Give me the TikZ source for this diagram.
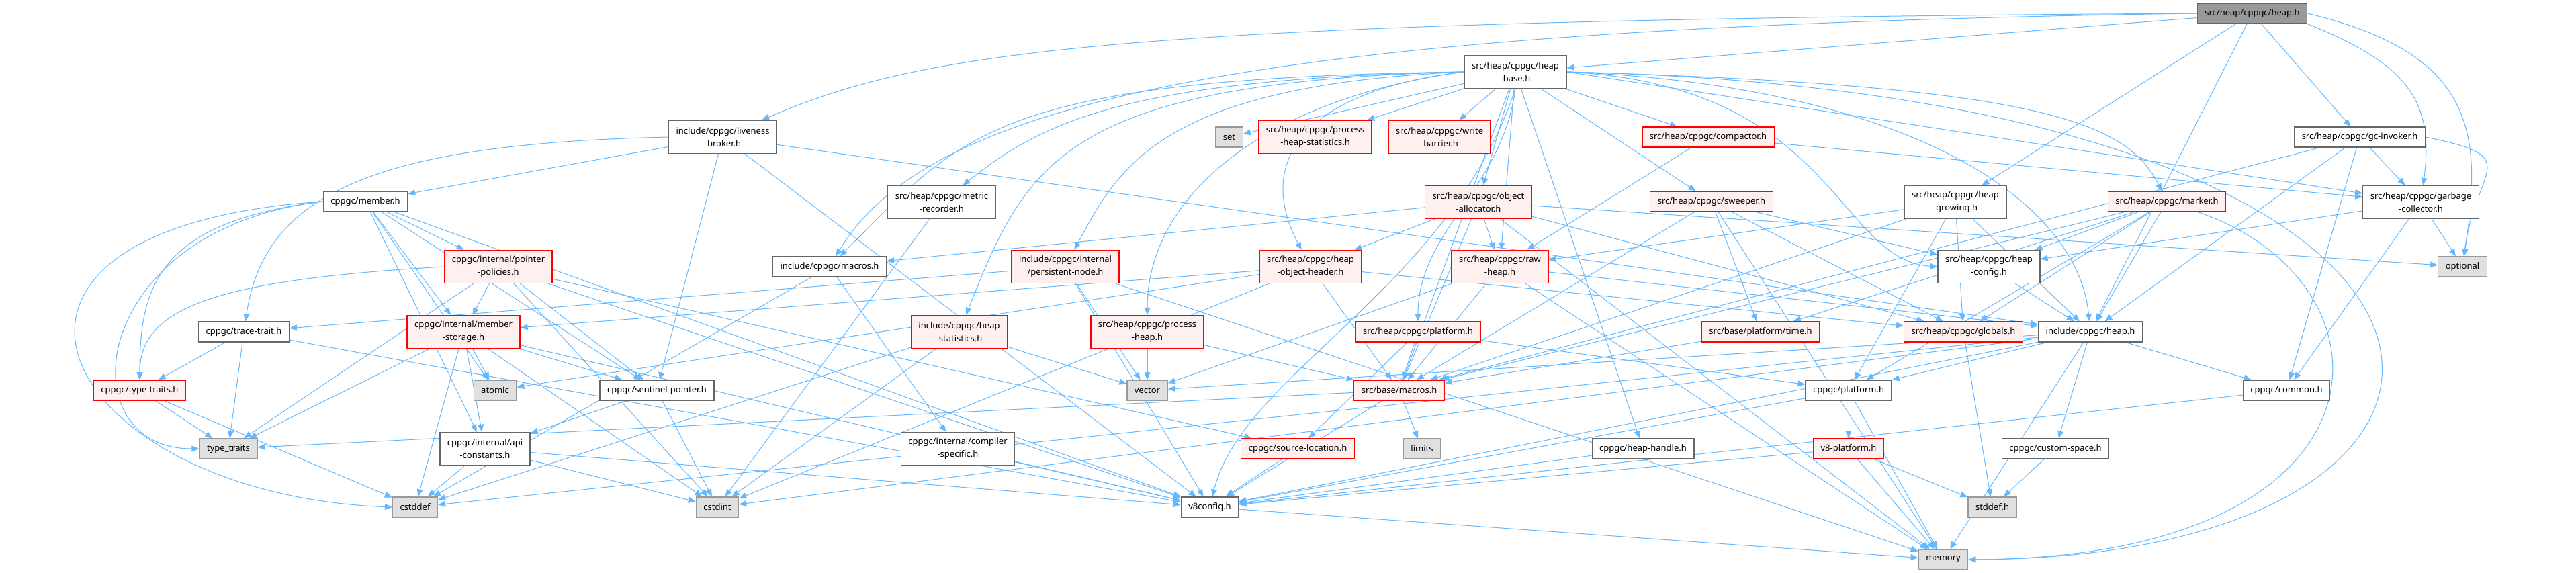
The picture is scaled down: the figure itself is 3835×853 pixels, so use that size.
\documentclass[tikz,border=0pt]{standalone}
\usepackage{fontspec}
\setmainfont{Noto Sans}
\usetikzlibrary{arrows.meta}
\pgfdeclarelayer{edges}
\pgfsetlayers{edges,main}

\definecolor{edgeblue}{HTML}{63B8FF}
\definecolor{boxgray}{HTML}{666666}
\definecolor{sysgray}{HTML}{999999}
\definecolor{sysfill}{HTML}{E0E0E0}
\definecolor{redfill}{HTML}{FFF0F0}
\definecolor{rootfill}{HTML}{999999}

\tikzset{
  file/.style={draw=boxgray, fill=white, line width=1.3pt, inner xsep=11pt,
    inner ysep=0pt, minimum height=30pt, align=center,
    font=\fontsize{13}{19}\selectfont},
  tall/.style={minimum height=49pt},
  redfile/.style={file, draw=red, fill=redfill},
  sysfile/.style={file, draw=sysgray, fill=sysfill},
  rootfile/.style={file, fill=rootfill},
  dep/.style={draw=edgeblue, line width=1pt, -{Triangle[length=11pt,width=9pt]}}
}

\begin{document}
\begin{tikzpicture}[x=1pt, y=-1pt]
  \useasboundingbox (0,0) rectangle (3835,853);

  % Root and first levels
  \node[rootfile] (root) at (3353,20) {src/heap/cppgc/heap.h};
  \node[file, tall] (hbase) at (2256,107) {src/heap/cppgc/heap\\-base.h};

  \node[file, tall] (live) at (1076,204) {include/cppgc/liveness\\-broker.h};
  \node[sysfile] (set) at (1830,204) {set};
  \node[redfile, tall] (phstats) at (1958,204) {src/heap/cppgc/process\\-heap-statistics.h};
  \node[redfile, tall] (wbar) at (2143,204) {src/heap/cppgc/write\\-barrier.h};
  \node[redfile] (compactor) at (2543,204) {src/heap/cppgc/compactor.h};
  \node[file] (gcinv) at (3513,204) {src/heap/cppgc/gc-invoker.h};

  \node[file] (member) at (544,300) {cppgc/member.h};
  \node[file, tall] (metric) at (1402,301) {src/heap/cppgc/metric\\-recorder.h};
  \node[redfile, tall] (oalloc) at (2201,301) {src/heap/cppgc/object\\-allocator.h};
  \node[redfile] (sweeper) at (2548,300) {src/heap/cppgc/sweeper.h};
  \node[file, tall] (hgrow) at (2911,301) {src/heap/cppgc/heap\\-growing.h};
  \node[redfile] (marker) at (3226,300) {src/heap/cppgc/marker.h};
  \node[file, tall] (gcoll) at (3604,301) {src/heap/cppgc/garbage\\-collector.h};

  \node[redfile, tall] (ppol) at (742,397) {cppgc/internal/pointer\\-policies.h};
  \node[file] (cmacros) at (1235,397) {include/cppgc/macros.h};
  \node[redfile, tall] (pnode) at (1586,397) {include/cppgc/internal\\/persistent-node.h};
  \node[redfile, tall] (hoheader) at (1951,397) {src/heap/cppgc/heap\\-object-header.h};
  \node[redfile, tall] (rawheap) at (2233,397) {src/heap/cppgc/raw\\-heap.h};
  \node[file, tall] (hconfig) at (2961,397) {src/heap/cppgc/heap\\-config.h};
  \node[sysfile] (optional) at (3666,397) {optional};

  \node[file] (trace) at (363,494) {cppgc/trace-trait.h};
  \node[redfile, tall] (mstor) at (690,494) {cppgc/internal/member\\-storage.h};
  \node[redfile, tall] (hstats) at (1428,494) {include/cppgc/heap\\-statistics.h};
  \node[redfile, tall] (pheap) at (1708,494) {src/heap/cppgc/process\\-heap.h};
  \node[redfile] (splat) at (2111,494) {src/heap/cppgc/platform.h};
  \node[redfile] (btime) at (2621,494) {src/base/platform/time.h};
  \node[redfile] (globals) at (2923,494) {src/heap/cppgc/globals.h};
  \node[file] (cheap) at (3112,494) {include/cppgc/heap.h};

  \node[redfile] (ttraits) at (208,581) {cppgc/type-traits.h};
  \node[sysfile] (atomic) at (737,581) {atomic};
  \node[file] (sentinel) at (978,581) {cppgc/sentinel-pointer.h};
  \node[sysfile] (vector) at (1708,581) {vector};
  \node[redfile] (bmacros) at (2083,581) {src/base/macros.h};
  \node[file] (cplat) at (2752,581) {cppgc/platform.h};
  \node[file] (common) at (3404,581) {cppgc/common.h};

  \node[sysfile] (typetraits) at (340,668) {type\_traits};
  \node[file, tall] (apiconst) at (722,668) {cppgc/internal/api\\-constants.h};
  \node[file, tall] (compspec) at (1426,668) {cppgc/internal/compiler\\-specific.h};
  \node[redfile] (srcloc) at (1932,668) {cppgc/source-location.h};
  \node[sysfile] (limits) at (2117,668) {limits};
  \node[file] (hhandle) at (2446,668) {cppgc/heap-handle.h};
  \node[redfile] (v8plat) at (2752,668) {v8-platform.h};
  \node[file] (cspace) at (3060,668) {cppgc/custom-space.h};

  \node[sysfile] (cstddef) at (618,755) {cstddef};
  \node[sysfile] (cstdint) at (1068,755) {cstdint};
  \node[file] (v8config) at (1801,755) {v8config.h};
  \node[sysfile] (stddef) at (2966,755) {stddef.h};
  \node[sysfile] (memory) at (2893,833) {memory};

  \begin{pgfonlayer}{edges}
  % Root includes
  \draw[dep] (root) -- (hbase);
  \draw[dep] (root.west) .. controls +(-1600,10) and +(300,-130) .. (live);
  \draw[dep] (root.west) .. controls +(-1400,20) and +(150,-250) .. (cmacros);
  \draw[dep] (root) -- (hgrow);
  \draw[dep] (root) -- (cheap);
  \draw[dep] (root) -- (gcinv);
  \draw[dep] (root.south east) .. controls +(150,60) and +(20,-150) .. (gcoll);
  \draw[dep] (root.east) .. controls +(250,60) and +(30,-200) .. (optional);

  % Heap base
  \draw[dep] (hbase) -- (set);
  \draw[dep] (hbase) -- (phstats);
  \draw[dep] (hbase) -- (wbar);
  \draw[dep] (hbase) -- (compactor);
  \draw[dep] (hbase) -- (oalloc);
  \draw[dep] (hbase) -- (rawheap);
  \draw[dep] (hbase) -- (sweeper);
  \draw[dep] (hbase.east) .. controls +(700,20) and +(-60,-120) .. (marker);
  \draw[dep] (hbase.west) .. controls +(-500,10) and +(150,-120) .. (metric);
  \draw[dep] (hbase.west) .. controls +(-450,20) and +(80,-150) .. (pnode);
  \draw[dep] (hbase.west) .. controls +(-250,30) and +(-80,-150) .. (hoheader);
  \draw[dep] (hbase.west) .. controls +(-600,15) and +(100,-250) .. (hstats);
  \draw[dep] (hbase.west) .. controls +(-700,10) and +(200,-200) .. (cmacros);
  \draw[dep] (hbase.west) .. controls +(-300,40) and +(0,-200) .. (pheap);
  \draw[dep] (hbase.south) .. controls +(-20,150) and +(0,-150) .. (splat);
  \draw[dep] (hbase) -- (bmacros);
  \draw[dep] (hbase.east) .. controls +(500,20) and +(-20,-200) .. (cheap);
  \draw[dep] (hbase) -- (hhandle);
  \draw[dep] (hbase.east) .. controls (3830,140) and (3830,830) .. (memory.east);
  \draw[dep] (hbase.south) .. controls +(-100,300) and +(50,-200) .. (v8config);
  \draw[dep] (hbase.east) -- (gcoll);
  \draw[dep] (hbase.east) .. controls +(400,20) and +(-150,-10) .. (hconfig.west);

  % Liveness broker and member
  \draw[dep] (live) -- (member);
  \draw[dep] (live.west) .. controls +(-450,10) and +(30,-200) .. (trace);
  \draw[dep] (live) -- (sentinel);
  \draw[dep] (live) -- (v8config);
  \draw[dep] (live) -- (cheap);
  \draw[dep] (member) -- (atomic);
  \draw[dep] (member.west) .. controls +(-600,40) and +(-500,-20) .. (cstddef.west);
  \draw[dep] (member.west) .. controls +(-350,40) and +(-200,0) .. (typetraits.west);
  \draw[dep] (member) -- (apiconst);
  \draw[dep] (member) -- (mstor);
  \draw[dep] (member) -- (ppol);
  \draw[dep] (member) -- (sentinel);
  \draw[dep] (member.west) .. controls +(-250,30) and +(0,-150) .. (ttraits);
  \draw[dep] (member) -- (v8config);

  % Pointer policies and member storage
  \draw[dep] (ppol) -- (mstor);
  \draw[dep] (ppol) -- (typetraits);
  \draw[dep] (ppol) -- (cstdint);
  \draw[dep] (ppol) -- (sentinel);
  \draw[dep] (ppol) -- (srcloc);
  \draw[dep] (ppol.west) .. controls +(-350,20) and +(0,-120) .. (ttraits);
  \draw[dep] (ppol) -- (v8config);
  \draw[dep] (mstor) -- (atomic);
  \draw[dep] (mstor) -- (cstddef);
  \draw[dep] (mstor) -- (typetraits);
  \draw[dep] (mstor) -- (apiconst);
  \draw[dep] (mstor) -- (sentinel);
  \draw[dep] (mstor) -- (v8config);
  \draw[dep] (mstor) -- (cstdint);

  % Allocation and heap internals
  \draw[dep] (cmacros) -- (compspec);
  \draw[dep] (cmacros) -- (cstddef);
  \draw[dep] (metric) -- (cstdint);
  \draw[dep] (oalloc) -- (cmacros);
  \draw[dep] (oalloc) -- (hoheader);
  \draw[dep] (oalloc) -- (rawheap);
  \draw[dep] (oalloc) -- (globals);
  \draw[dep] (oalloc) -- (optional);
  \draw[dep] (oalloc) -- (bmacros);
  \draw[dep] (oalloc) -- (memory);
  \draw[dep] (compactor) -- (rawheap);
  \draw[dep] (compactor) -- (gcoll);
  \draw[dep] (sweeper) -- (hconfig);
  \draw[dep] (sweeper) -- (btime);
  \draw[dep] (sweeper) -- (bmacros);
  \draw[dep] (sweeper) -- (memory);
  \draw[dep] (sweeper) -- (globals);
  \draw[dep] (hgrow) -- (rawheap);
  \draw[dep] (hgrow) -- (bmacros);
  \draw[dep] (hgrow) -- (cheap);
  \draw[dep] (hgrow) -- (globals);
  \draw[dep] (hgrow) -- (cplat);
  \draw[dep] (marker) -- (hconfig);
  \draw[dep] (marker) -- (btime);
  \draw[dep] (marker) -- (globals);
  \draw[dep] (marker) -- (cheap);
  \draw[dep] (marker) -- (cplat);
  \draw[dep] (marker) .. controls (3580,420) and (3580,830) .. (memory.east);
  \draw[dep] (marker) -- (bmacros);
  \draw[dep] (gcinv) -- (gcoll);
  \draw[dep] (gcinv.east) .. controls +(150,30) and +(20,-150) .. (optional);
  \draw[dep] (gcinv) -- (common);
  \draw[dep] (gcinv) -- (cheap);
  \draw[dep] (gcinv) -- (bmacros);
  \draw[dep] (gcoll) -- (optional);
  \draw[dep] (gcoll) -- (hconfig);
  \draw[dep] (gcoll) -- (common);
  \draw[dep] (pnode) -- (vector);
  \draw[dep] (pnode) -- (v8config);
  \draw[dep] (pnode) -- (trace);
  \draw[dep] (pnode) -- (memory);
  \draw[dep] (hoheader) -- (mstor);
  \draw[dep] (hoheader) -- (atomic);
  \draw[dep] (hoheader) -- (globals);
  \draw[dep] (hoheader) -- (bmacros);
  \draw[dep] (hoheader) -- (cstdint);
  \draw[dep] (rawheap) -- (vector);
  \draw[dep] (rawheap) -- (memory);
  \draw[dep] (rawheap) -- (cheap);
  \draw[dep] (rawheap) -- (bmacros);
  \draw[dep] (hconfig) -- (cheap);

  % Lower levels
  \draw[dep] (trace) -- (typetraits);
  \draw[dep] (trace) -- (ttraits);
  \draw[dep] (trace) -- (v8config);
  \draw[dep] (hstats) -- (vector);
  \draw[dep] (hstats) -- (cstddef);
  \draw[dep] (hstats) -- (cstdint);
  \draw[dep] (pheap) -- (vector);
  \draw[dep] (pheap) -- (bmacros);
  \draw[dep] (splat) -- (bmacros);
  \draw[dep] (splat) -- (srcloc);
  \draw[dep] (splat) -- (cplat);
  \draw[dep] (btime) -- (bmacros);
  \draw[dep] (globals) -- (stddef);
  \draw[dep] (cheap) -- (common);
  \draw[dep] (cheap) -- (cspace);
  \draw[dep] (cheap) -- (cplat);
  \draw[dep] (cheap) -- (memory);
  \draw[dep] (cheap) -- (vector);
  \draw[dep] (cheap) -- (cstddef);
  \draw[dep] (cheap) -- (cstdint);
  \draw[dep] (cheap) -- (v8config);
  \draw[dep] (ttraits) -- (cstddef);
  \draw[dep] (ttraits) -- (typetraits);
  \draw[dep] (sentinel) -- (apiconst);
  \draw[dep] (sentinel) -- (cstdint);
  \draw[dep] (bmacros) -- (limits);
  \draw[dep] (bmacros) -- (typetraits);
  \draw[dep] (bmacros) -- (v8config);
  \draw[dep] (cplat) -- (v8plat);
  \draw[dep] (cplat) -- (memory);
  \draw[dep] (cplat) -- (v8config);
  \draw[dep] (common) -- (v8config);
  \draw[dep] (apiconst) -- (cstddef);
  \draw[dep] (apiconst) -- (cstdint);
  \draw[dep] (apiconst) -- (v8config);
  \draw[dep] (compspec) -- (v8config);
  \draw[dep] (srcloc) -- (v8config);
  \draw[dep] (hhandle) -- (v8config);
  \draw[dep] (v8plat) -- (stddef);
  \draw[dep] (v8plat) -- (memory);
  \draw[dep] (v8plat) -- (v8config);
  \draw[dep] (cspace) -- (stddef);
  \draw[dep] (v8config) -- (memory);
  \end{pgfonlayer}

\end{tikzpicture}
\end{document}
